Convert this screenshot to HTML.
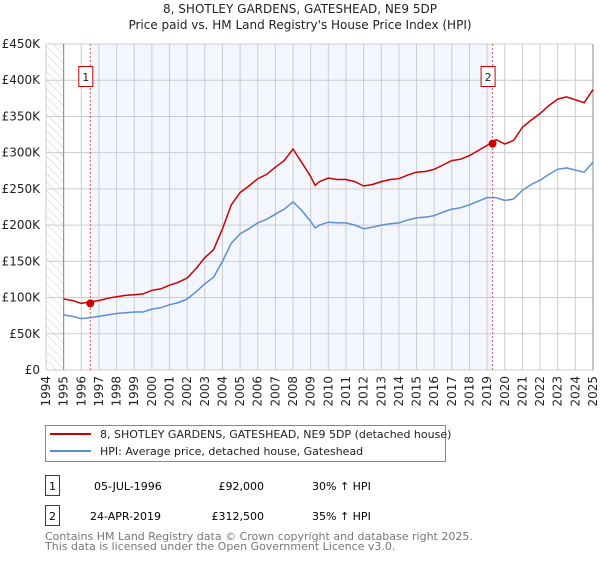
<!DOCTYPE html>
<html><head><meta charset="utf-8"><style>
body{margin:0;background:#fff;font-family:"DejaVu Sans","Liberation Sans",sans-serif;}
svg text{font-family:"DejaVu Sans","Liberation Sans",sans-serif;}
</style></head><body>
<svg id="chart" width="600" height="560" xmlns="http://www.w3.org/2000/svg">
<defs><pattern id="hatch" width="6" height="6" patternUnits="userSpaceOnUse" patternTransform="rotate(-45)"><line x1="0" y1="0" x2="0" y2="6" stroke="#ccc" stroke-width="1"/></pattern></defs>
<text x="300" y="13" text-anchor="middle" font-size="12" fill="#222">8, SHOTLEY GARDENS, GATESHEAD, NE9 5DP</text>
<text x="300" y="29" text-anchor="middle" font-size="12" fill="#222">Price paid vs. HM Land Registry's House Price Index (HPI)</text>
<g id="grid"></g><g id="series"></g><g id="axes"></g>
<g>
<rect x="45.5" y="425.5" width="400" height="36" fill="#fff" stroke="#888"/>
<line x1="50" y1="434" x2="91" y2="434" stroke="#cc0000" stroke-width="2"/>
<text x="100" y="438" font-size="11" fill="#222">8, SHOTLEY GARDENS, GATESHEAD, NE9 5DP (detached house)</text>
<line x1="50" y1="451" x2="91" y2="451" stroke="#5b8fd0" stroke-width="2"/>
<text x="100" y="455" font-size="11" fill="#222">HPI: Average price, detached house, Gateshead</text>
</g>
<g>
<rect x="45.5" y="475.5" width="14" height="20" fill="#fff" stroke="#cc0000"/>
<text x="52.5" y="490" font-size="11" text-anchor="middle">1</text>
<text x="94" y="490" font-size="11">05-JUL-1996</text>
<text x="264" y="490" font-size="11" text-anchor="end">£92,000</text>
<text x="312" y="490" font-size="11">30% ↑ HPI</text></g>
<g>
<rect x="45.5" y="505.5" width="14" height="20" fill="#fff" stroke="#cc0000"/>
<text x="52.5" y="520" font-size="11" text-anchor="middle">2</text>
<text x="90" y="520" font-size="11">24-APR-2019</text>
<text x="264" y="520" font-size="11" text-anchor="end">£312,500</text>
<text x="312" y="520" font-size="11">35% ↑ HPI</text></g>
<text x="45" y="540" font-size="11" fill="#777">Contains HM Land Registry data © Crown copyright and database right 2025.</text>
<text x="45" y="550" font-size="11" fill="#777">This data is licensed under the Open Government Licence v3.0.</text>
</svg>
<script>
const years=[1995,1995.5,1996,1996.5,1997,1997.5,1998,1998.5,1999,1999.5,2000,2000.5,2001,2001.5,2002,2002.5,2003,2003.5,2004,2004.5,2005,2005.5,2006,2006.5,2007,2007.5,2008,2008.5,2009,2009.25,2009.5,2010,2010.5,2011,2011.5,2012,2012.5,2013,2013.5,2014,2014.5,2015,2015.5,2016,2016.5,2017,2017.5,2018,2018.5,2019,2019.5,2020,2020.5,2021,2021.5,2022,2022.5,2023,2023.5,2024,2024.5,2025];
const hpiValues=[76,74,71,72,74,76,78,79,80,80,84,86,90,93,98,108,119,128,150,175,188,195,203,208,215,222,232,220,205,196,200,204,203,203,200,195,197,200,202,203,207,210,211,213,218,222,224,228,233,238,238,234,236,248,256,262,270,277,279,276,273,287];
const priceValues=[98,96,92,94,96,99,101,103,104,105,110,112,117,121,127,140,155,166,195,228,245,254,264,270,280,289,305,286,267,255,260,265,263,263,260,254,256,260,263,264,269,273,274,277,283,289,291,296,303,310,318,312,317,335,345,354,365,374,377,373,369,387];
const saleYears=[1996.51,2019.31];
const salePrices=[92,312.5];
const yTicks=[0,50,100,150,200,250,300,350,400,450];
const yTickLabels=["£0","£50K","£100K","£150K","£200K","£250K","£300K","£350K","£400K","£450K"];
const xTicks=[];for(let y=1994;y<=2025;y++)xTicks.push(y);
const X=y=>46+(y-1994)*(547/31);
const Y=v=>370-v*(326/450);
const NS="http://www.w3.org/2000/svg";
function mk(parent,tag,attrs){const e=document.createElementNS(NS,tag);for(const k in attrs)e.setAttribute(k,attrs[k]);parent.appendChild(e);return e;}
const grid=document.getElementById('grid'),ser=document.getElementById('series'),ax=document.getElementById('axes');
let r=mk(grid,'rect',{x:X(1996.51),y:Y(450),width:X(2019.31)-X(1996.51),height:Y(0)-Y(450),fill:'#f3f6fd'});


r=mk(grid,'rect',{x:X(1994),y:Y(450),width:X(1995)-X(1994),height:Y(0)-Y(450),fill:'url(#hatch)'});


xTicks.forEach(t=>{const l=mk(grid,'line',{x1:X(t),x2:X(t),y1:Y(450),y2:Y(0),stroke:'#ccc','stroke-width':1});


const tx=mk(ax,'text',{x:0,y:0,'font-size':12,fill:'#222','text-anchor':'end',transform:`translate(${X(t)+4},${Y(0)+6}) rotate(-90)`});tx.textContent=t;

});
yTicks.forEach((t,i)=>{const l=mk(grid,'line',{x1:X(1994),x2:X(2025),y1:Y(t),y2:Y(t),stroke:'#ccc','stroke-width':1});


const tx=mk(ax,'text',{x:40,y:Y(t)+4,'font-size':12,fill:'#222','text-anchor':'end'});tx.textContent=yTickLabels[i];

});
const l0=mk(grid,'line',{x1:X(1995),x2:X(1995),y1:Y(450),y2:Y(0),stroke:'#888'});


const l1=mk(grid,'line',{x1:X(2025),x2:X(2025),y1:Y(450),y2:Y(0),stroke:'#888'});


saleYears.forEach((s,i)=>{const l=mk(grid,'line',{x1:X(s),x2:X(s),y1:Y(450),y2:Y(0),stroke:'#e06060','stroke-dasharray':'2,2'});


const b=mk(ax,'rect',{x:X(s)-11.5,y:66.5,width:14,height:20,fill:'#fff',stroke:'#cc0000'});


const t=mk(ax,'text',{x:X(s)-4.5,y:81,'font-size':11,'text-anchor':'middle',fill:'#222'});t.textContent=i+1;

});
const hp=mk(ser,'path',{d:years.map((y,i)=>(i?'L':'M')+X(y).toFixed(1)+','+Y(hpiValues[i]).toFixed(1)).join(''),fill:'none',stroke:'#5b8fd0','stroke-width':1.5});


const pp=mk(ser,'path',{d:years.map((y,i)=>(i?'L':'M')+X(y).toFixed(1)+','+Y(priceValues[i]).toFixed(1)).join(''),fill:'none',stroke:'#cc0000','stroke-width':1.5});


saleYears.forEach((s,i)=>{const c=mk(ser,'circle',{cx:X(s),cy:Y(salePrices[i]),r:4,fill:'#cc0000'});

});
</script>
</body></html>
